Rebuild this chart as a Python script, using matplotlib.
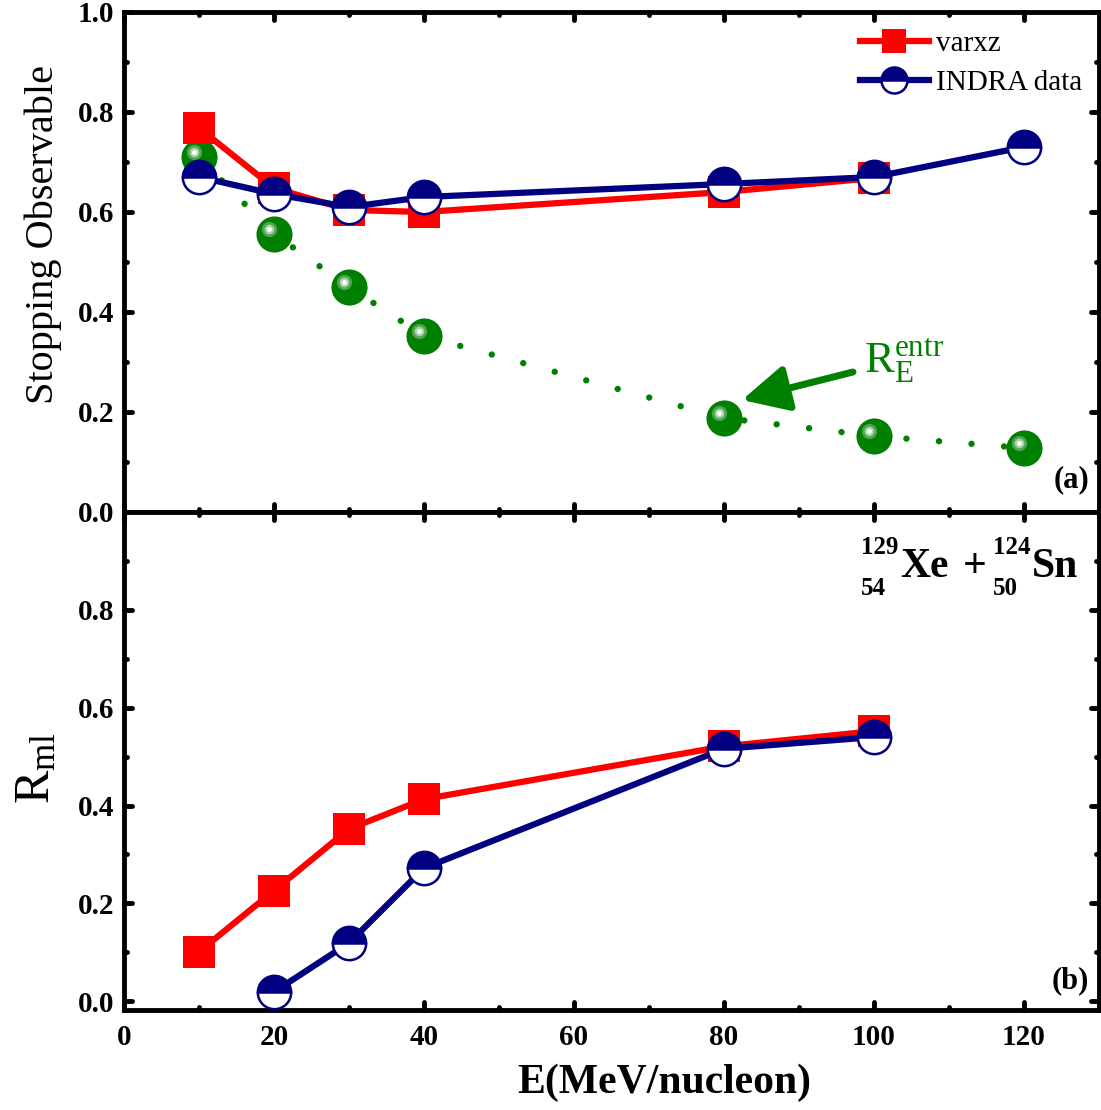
import matplotlib
matplotlib.use("Agg")
import matplotlib.pyplot as plt
from matplotlib import transforms
from matplotlib.markers import MarkerStyle
from matplotlib.ticker import MultipleLocator

# ---- data -------------------------------------------------------------
E_varxz = [10, 20, 30, 40, 80, 100]
stop_varxz = [0.768, 0.648, 0.604, 0.600, 0.640, 0.668]

E_indra = [10, 20, 30, 40, 80, 100, 120]
stop_indra = [0.670, 0.636, 0.610, 0.630, 0.656, 0.670, 0.730]

E_entr = [10, 20, 30, 40, 80, 100, 120]
re_entr = [0.710, 0.556, 0.450, 0.352, 0.188, 0.152, 0.128]

E_rml_varxz = [10, 20, 30, 40, 80, 100]
rml_varxz = [0.101, 0.226, 0.352, 0.413, 0.521, 0.552]

E_rml_indra = [20, 30, 40, 80, 100]
rml_indra = [0.019, 0.119, 0.272, 0.516, 0.540]

y_ticks_top = [0.0, 0.2, 0.4, 0.6, 0.8, 1.0]
y_ticks_bot = [0.0, 0.2, 0.4, 0.6, 0.8]

# ---- style ------------------------------------------------------------
plt.rcParams['font.family'] = ['Liberation Serif', 'DejaVu Serif']
plt.rcParams['mathtext.fontset'] = 'custom'
plt.rcParams['mathtext.rm'] = 'Liberation Serif'
plt.rcParams['mathtext.it'] = 'Liberation Serif:italic'
plt.rcParams['mathtext.bf'] = 'Liberation Serif:bold'

RED = '#ff0000'
NAVY = '#000080'
GREEN = '#008000'

W, H = 1101, 1110
fig = plt.figure(figsize=(W / 100, H / 100), dpi=100)
left, right = 124 / W, 1099 / W
y_top, y_mid, y_bot = 1 - 12 / H, 1 - 512 / H, 1 - 1010 / H
ax1 = fig.add_axes([left, y_mid, right - left, y_top - y_mid])
ax2 = fig.add_axes([left, y_bot, right - left, y_mid - y_bot], sharex=ax1)


def style_axes(ax, yticks, show_x):
    ax.set_xlim(0, 130)
    ax.xaxis.set_major_locator(MultipleLocator(20))
    ax.xaxis.set_minor_locator(MultipleLocator(10))
    ax.set_yticks(yticks)
    ax.yaxis.set_minor_locator(MultipleLocator(0.1))
    for s in ax.spines.values():
        s.set_linewidth(3.5)
    ax.tick_params(which='both', direction='in', top=True, right=True,
                   width=3.5, labelsize=21)
    ax.tick_params(which='major', length=5.5)
    ax.tick_params(which='minor', length=2.5)
    ax.tick_params(axis='y', pad=7)
    ax.tick_params(axis='x', pad=10, labelbottom=show_x)
    for lab in ax.get_xticklabels() + ax.get_yticklabels():
        lab.set_fontweight('bold')


def round_ticks(ax):
    for axis in (ax.xaxis, ax.yaxis):
        for tick in axis.get_major_ticks() + axis.get_minor_ticks():
            for ln in (tick.tick1line, tick.tick2line):
                ln.set_marker(MarkerStyle(ln.get_marker(), capstyle='round'))


def draw_spheres(ax, x, y, size):
    ax.plot(x, y, 'o', ms=size, mfc=GREEN, mec=GREEN, mew=0, zorder=2)
    off = transforms.offset_copy(ax.transData, fig=fig, x=-5.5, y=5.5, units='dots')
    ax.plot(x, y, 'o', ms=11, mfc='#4fa54f', mew=0, transform=off, zorder=2.1)
    ax.plot(x, y, 'o', ms=7, mfc='#a8d3a8', mew=0, transform=off, zorder=2.2)
    ax.plot(x, y, 'o', ms=3.6, mfc='white', mew=0, transform=off, zorder=2.3)


# ---- panel (a) ---------------------------------------------------------
ax1.plot(E_entr, re_entr, color=GREEN, lw=4.6, linestyle=(0, (0.01, 5.1)),
         dash_capstyle='round', zorder=1.5)
draw_spheres(ax1, E_entr, re_entr, 26)

ax1.plot(E_varxz, stop_varxz, '-s', color=RED, lw=4.5, ms=23, mew=0,
         label='varxz', zorder=3)
ax1.plot(E_indra, stop_indra, '-o', color=NAVY, lw=4.5, ms=24,
         fillstyle='top', mfc=NAVY, mfcalt='white', mec=NAVY, mew=1.8,
         label='INDRA data', zorder=4)

ax1.set_ylim(0, 1.0)
style_axes(ax1, y_ticks_top, False)
ax1.set_ylabel('Stopping Observable', fontsize=29)
ax1.yaxis.set_label_coords(-0.064, 0.556)

ax1.legend(loc='upper left', bbox_to_anchor=(0.755, 0.962), frameon=False,
           fontsize=21, markerscale=0.78, handlelength=2.35,
           handletextpad=0.25, labelspacing=0.42, borderpad=0,
           borderaxespad=0)

ax1.annotate('', xy=(82.4, 0.224), xytext=(97.2, 0.280),
             arrowprops=dict(arrowstyle='-|>,head_length=1.0,head_width=0.5',
                             color=GREEN, lw=5, shrinkA=0, shrinkB=0,
                             mutation_scale=28))
ax1.text(98.6, 0.302, r'$\mathrm{R}_{\mathrm{E}}^{\mathrm{entr}}$',
         fontsize=32, color=GREEN, ha='left', va='center')

ax1.text(0.990, 0.035, '(a)', transform=ax1.transAxes, ha='right', va='bottom',
         fontsize=22, fontweight='bold')

# ---- panel (b) ---------------------------------------------------------
ax2.plot(E_rml_varxz, rml_varxz, '-s', color=RED, lw=4.5, ms=23, mew=0, zorder=3)
ax2.plot(E_rml_indra, rml_indra, '-o', color=NAVY, lw=4.5, ms=24,
         fillstyle='top', mfc=NAVY, mfcalt='white', mec=NAVY, mew=1.8, zorder=4)

ax2.set_ylim(-0.018, 1.0)
style_axes(ax2, y_ticks_bot, True)
ax2.set_ylabel(r'$\mathrm{R_{ml}}$', fontsize=36)
ax2.yaxis.set_label_coords(-0.066, 0.487)
ax2.set_xlabel('E(MeV/nucleon)', fontsize=30, fontweight='bold')
ax2.xaxis.set_label_coords(0.554, -0.108)

ax2.text(0.990, 0.03, '(b)', transform=ax2.transAxes, ha='right', va='bottom',
         fontsize=22, fontweight='bold')


# reaction label: nuclide symbols with mass / charge numbers
def ptext(px, py, s, size, **kw):
    fig.text(px / W, 1 - py / H, s, fontsize=size, fontweight='bold',
             va='baseline', **kw)


ptext(861, 554, '129', 18)
ptext(861, 595, '54', 18)
ptext(900, 577, 'Xe', 30)
ptext(975, 577, '+', 30, ha='center')
ptext(993, 554, '124', 18)
ptext(993, 595, '50', 18)
ptext(1032, 577, 'Sn', 30)

fig.canvas.draw()
round_ticks(ax1)
round_ticks(ax2)
fig.savefig('out.png', dpi=100)
